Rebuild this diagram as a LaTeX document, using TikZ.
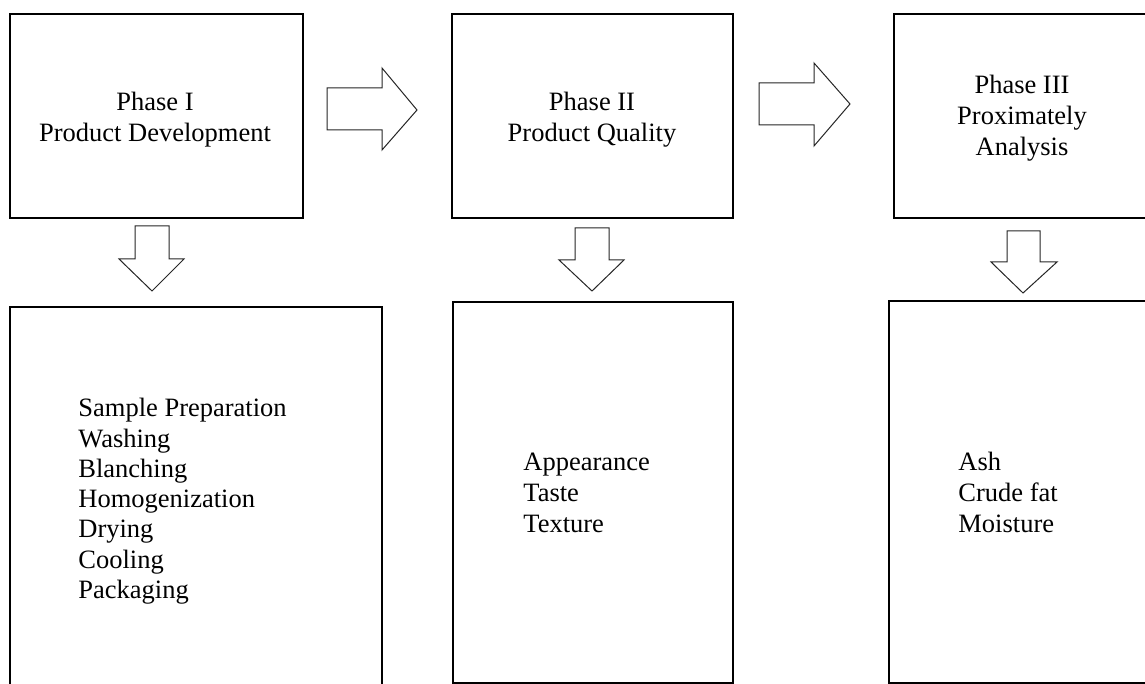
\documentclass[tikz,border=0pt]{standalone}
\usepackage{fontspec}
\setmainfont{Liberation Serif}
\begin{document}
\begin{tikzpicture}[x=0.5pt,y=-0.5pt,
  phasebox/.style={draw=black,line width=1pt,fill=none,inner sep=0pt},
  blockarrow/.style={draw=black!85,line width=0.5pt,fill=white,line join=miter},
  toptext/.style={inner sep=0pt,align=center,font=\fontsize{13.25pt}{15.5pt}\selectfont},
  listtext/.style={inner sep=0pt,align=left,anchor=north west,font=\fontsize{13.25pt}{15.5pt}\selectfont}]
\useasboundingbox (0,0) rectangle (1145,684);
\clip (0,0) rectangle (1145,684);
% top boxes
\draw[phasebox] (10,14) rectangle (303,218) coordinate (b1);
\draw[phasebox] (452,14) rectangle (733,218) coordinate (b2);
\draw[phasebox] (894,14) rectangle (1151,218) coordinate (b3);
% bottom boxes
\draw[phasebox] (10,307) rectangle (382,700) coordinate (c1);
\draw[phasebox] (453,302) rectangle (733,683) coordinate (c2);
\draw[phasebox] (889,301) rectangle (1151,683) coordinate (c3);
% texts
\node[toptext,anchor=north] (t1) at (155,92) {Phase I\\Product Development};
\node[toptext,anchor=north] (t2) at (592,92) {Phase II\\Product Quality};
\node[toptext,anchor=north] (t3) at (1022,75) {Phase III\\Proximately\\Analysis};
\node[listtext,font=\fontsize{13.25pt}{15.15pt}\selectfont] (l1) at (78,398)
  {Sample Preparation\\Washing\\Blanching\\Homogenization\\Drying\\Cooling\\Packaging};
\node[listtext] (l2) at (523,452.5) {Appearance\\Taste\\Texture};
\node[listtext] (l3) at (958,452) {Ash\\Crude fat\\Moisture};
% right block arrows
\draw[blockarrow] (327,88) -- (382,88) -- (382,68) -- (417,110) -- (382,150) -- (382,130) -- (327,130) -- cycle;
\draw[blockarrow] (759,83) -- (814,83) -- (814,63) -- (850,104) -- (814,146) -- (814,125) -- (759,125) -- cycle;
% down block arrows
\draw[blockarrow] (135,226) -- (169,226) -- (169,259) -- (184,259) -- (152,291) -- (119,259) -- (135,259) -- cycle;
\draw[blockarrow] (575,228) -- (609,228) -- (609,260) -- (624,260) -- (592,291) -- (559,260) -- (575,260) -- cycle;
\draw[blockarrow] (1007,231) -- (1040,231) -- (1040,262) -- (1057,262) -- (1023,293) -- (991,262) -- (1007,262) -- cycle;
\end{tikzpicture}
\end{document}
